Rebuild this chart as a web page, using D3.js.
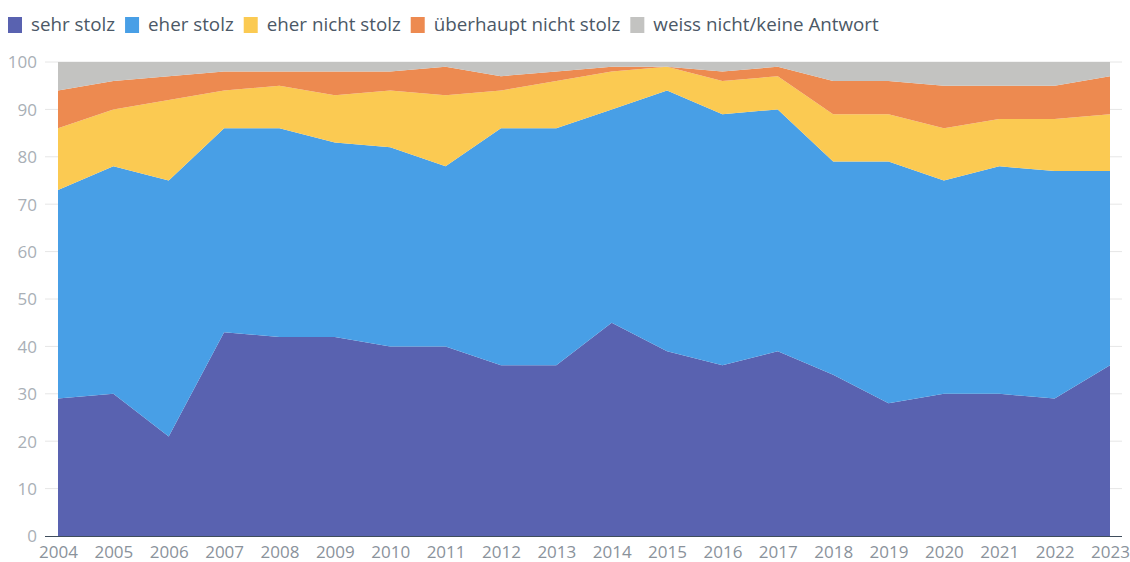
<!DOCTYPE html>
<html><head><meta charset="utf-8">
<script src="https://cdn.jsdelivr.net/npm/d3@7"></script>
<style>
body{margin:0;background:#fff;}
svg{display:block;font-family:"Open Sans",sans-serif;}
</style></head>
<body><svg id="c" width="1130" height="562"></svg>
<script>
const years = [2004,2005,2006,2007,2008,2009,2010,2011,2012,2013,2014,2015,2016,2017,2018,2019,2020,2021,2022,2023];
const sehrStolz        = [29,30,21,43,42,42,40,40,36,36,45,39,36,39,34,28,30,30,29,36];
const eherStolz        = [44,48,54,43,44,41,42,38,50,50,45,55,53,51,45,51,45,48,48,41];
const eherNichtStolz   = [13,12,17, 8, 9,10,12,15, 8,10, 8, 5, 7, 7,10,10,11,10,11,12];
const ueberhauptNicht  = [ 8, 6, 5, 4, 3, 5, 4, 6, 3, 2, 1, 0, 2, 2, 7, 7, 9, 7, 7, 8];
const weissNicht       = [ 6, 4, 3, 2, 2, 2, 2, 1, 3, 2, 1, 1, 2, 1, 4, 4, 5, 5, 5, 3];
const seriesNames = ["sehr stolz","eher stolz","eher nicht stolz","überhaupt nicht stolz","weiss nicht/keine Antwort"];
const yTicks = [0,10,20,30,40,50,60,70,80,90,100];

const colors = ["#5962b0","#489fe6","#fbca52","#ed8a50","#c3c3c1"];
const seriesValues = [sehrStolz,eherStolz,eherNichtStolz,ueberhauptNicht,weissNicht];
const keys = seriesNames;
const rows = years.map((y,i)=>{const r={year:y}; keys.forEach((k,j)=>r[k]=seriesValues[j][i]); return r;});

const svg = d3.select("#c");
const x = d3.scaleLinear().domain([2004,2023]).range([58,1110]);
const y = d3.scaleLinear().domain([0,100]).range([536,62]);

// gridlines
svg.append("g").selectAll("line").data(yTicks.filter(t=>t>0)).join("line")
  .attr("x1",45).attr("x2",1122).attr("y1",d=>y(d)).attr("y2",d=>y(d))
  .attr("stroke","#e6e6e6").attr("stroke-width",1);

const stack = d3.stack().keys(keys);
const layers = stack(rows);
const area = d3.area().x(d=>x(d.data.year)).y0(d=>y(d[0])).y1(d=>y(d[1]));
svg.append("g").selectAll("path").data(layers).join("path")
  .attr("d",area).attr("fill",(d,i)=>colors[i]);

// y axis labels
const yAxis = d3.axisLeft(y).tickValues(yTicks).tickSize(0).tickPadding(0);
const gy = svg.append("g").attr("transform","translate(37,0)").call(yAxis);
gy.select(".domain").remove();
gy.selectAll("text").attr("fill","#a9afb6").style("font-size","17px").style("font-family","'Open Sans',sans-serif").attr("dy","0.35em");

// x axis
const xAxis = d3.axisBottom(x).tickValues(years).tickFormat(d3.format("d")).tickSize(0).tickPadding(0);
const gx = svg.append("g").attr("transform","translate(0,536)").call(xAxis);
gx.select(".domain").remove();
gx.selectAll("text").attr("fill","#8a929b").style("font-size","17px").style("font-family","'Open Sans',sans-serif").attr("y",22).attr("dy",0);
svg.append("line").attr("x1",45).attr("x2",1122).attr("y1",536.5).attr("y2",536.5).attr("stroke","#3f4d5c").attr("stroke-width",1);

// legend
const lg = svg.append("g");
let lx = 8;
keys.forEach((k,i)=>{
  lg.append("rect").attr("x",lx).attr("y",17).attr("width",14).attr("height",16).attr("fill",colors[i]);
  const t = lg.append("text").attr("x",lx+23).attr("y",31).text(k)
    .attr("fill","#4b5866").style("font-size","18.8px");
  lx = lx + 23 + t.node().getComputedTextLength() + 10;
});
</script></body></html>
